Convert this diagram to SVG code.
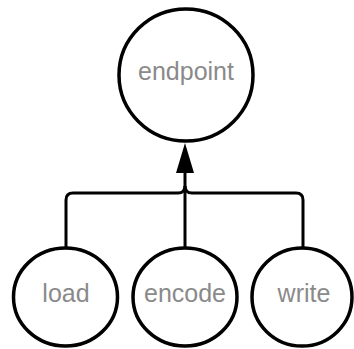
<svg xmlns="http://www.w3.org/2000/svg" width="354" height="349" viewBox="0 0 354 349">
  <style>
    .node ellipse { fill: #ffffff; stroke: #000000; stroke-width: 3.5; }
    .node text { font-family: "Liberation Sans", Arial, sans-serif; font-size: 25px; fill: #8a8a8a; text-anchor: middle; }
    .edge { fill: none; stroke: #000000; stroke-width: 3; }
  </style>
  <rect width="354" height="349" fill="#ffffff"/>

  <!-- tree connectors: children merge into one trunk that points up at the root -->
  <g id="connectors">
    <path class="edge" d="M66,247 V200 Q66,193 73,193 H178 Q185,193 185,186"/>
    <path class="edge" d="M303,247 V200 Q303,193 296,193 H192 Q185,193 185,186"/>
    <path class="edge" d="M185,247 V170"/>
    <polygon points="185,143 194,173 176,173" fill="#000000"/>
  </g>

  <g id="endpoint" class="node">
    <ellipse cx="186" cy="75" rx="67" ry="66"/>
    <text x="186" y="80">endpoint</text>
  </g>

  <g id="load" class="node">
    <ellipse cx="65.5" cy="297" rx="52" ry="49"/>
    <text x="66" y="302">load</text>
  </g>

  <g id="encode" class="node">
    <ellipse cx="185" cy="297" rx="52" ry="49"/>
    <text x="185" y="302">encode</text>
  </g>

  <g id="write" class="node">
    <ellipse cx="302" cy="297" rx="50" ry="49"/>
    <text x="304" y="302">write</text>
  </g>
</svg>
